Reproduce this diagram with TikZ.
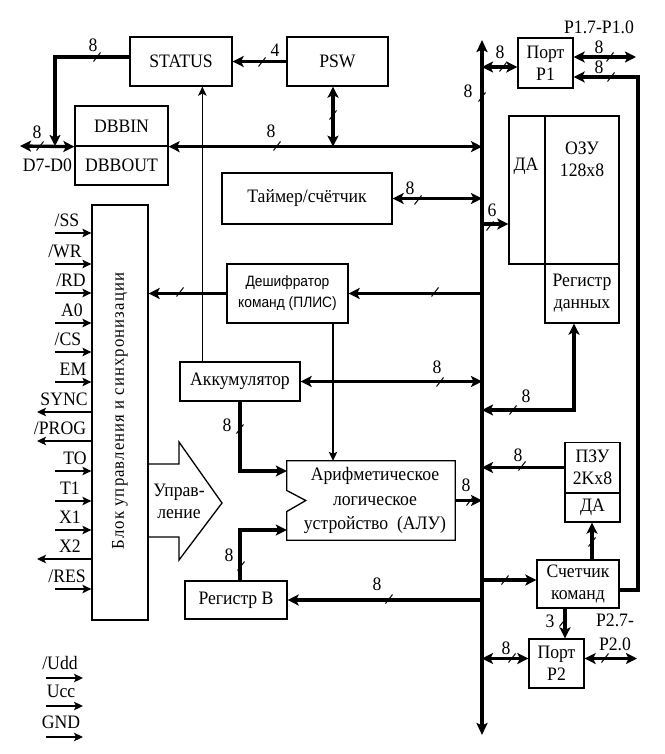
\documentclass[tikz,border=0pt]{standalone}
\usepackage{fontspec}
\setmainfont{Liberation Serif}[FakeStretch=0.93]
\newfontfamily\decfont{Liberation Sans}[FakeStretch=0.92]
\usetikzlibrary{arrows.meta,calc}
\tikzset{
  every node/.style={font=\fontsize{19}{22}\selectfont, inner sep=0pt},
  box/.style 2 args={draw, line width=1.3pt, minimum width=#1, minimum height=#2, align=center},
  boxl/.style={line width=1.3pt},
  th/.style={line width=3.3pt, >={Stealth[length=11pt,width=11pt,inset=2.5pt]}},
  bus/.style={line width=3.8pt, >={Stealth[length=12pt,width=11pt,inset=2.5pt]}},
  tn/.style={line width=1.3pt, >={Stealth[length=9pt,width=8.5pt,inset=2pt]}},
  tickl/.style={line width=1pt},
  lbl/.style={font=\fontsize{19}{22}\selectfont}
}
\newcommand\tk[2]{\draw[tickl] (#1,#2) ++(-3.5,4.5) -- ++(7,-9);}
\begin{document}
\begin{tikzpicture}[x=1pt,y=-1pt]
\useasboundingbox (0,0) rectangle (664,754);
% bus
\coordinate (bustop) at (482,40);
\coordinate (busbot) at (482,735);
\draw[bus,<->] (bustop) -- (busbot);
% boxes
\node[box={102pt}{49pt}] (status) at (181,61.5) {STATUS};
\node[box={101pt}{49pt}] (psw) at (337.5,61.5) {PSW};
\node[box={93pt}{40pt}] (dbbin) at (121.5,126) {DBBIN};
\node[box={93pt}{39pt}] (dbbout) at (121.5,165.5) {DBBOUT};
\node[box={170pt}{51pt}] (timer) at (307,198.5) {Таймер/счётчик};
\node[box={121pt}{59pt}, font=\decfont\fontsize{15}{21}\selectfont] (dec) at (287.5,293.5) {Дешифратор\\команд (ПЛИС)};
\node[box={56pt}{415pt}] (ctrl) at (120,412.5) {};
\node[rotate=90, font=\fontsize{18}{20}\selectfont\addfontfeature{LetterSpace=6}] (ctrltext) at (120,411) {Блок управления и синхронизации};
\node[box={120pt}{39pt}] (acc) at (240,381.5) {Аккумулятор};
\node[minimum width=168pt, minimum height=79pt, align=center, font=\fontsize{19}{24.5}\selectfont] (alu) at (371,500.5) {\hspace*{8pt}Арифметическое\\\hspace*{8pt}логическое\\\hspace*{8pt}устройство\ \ (АЛУ)};
\draw[boxl] (alu.north west) -- (alu.north east) -- (alu.south east) -- (alu.south west) -- ($(alu.west)+(0,11)$) -- ($(alu.west)+(19,0)$) -- ($(alu.west)+(0,-10)$) -- cycle;
\node[box={102pt}{38pt}] (regb) at (236,600) {Регистр B};
\node[box={55pt}{50pt}] (p1) at (545.5,63) {Порт\\P1};
\node[box={36pt}{148pt}] (da) at (527,190) {};
\node (datext) at (526,166) {ДА};
\node[box={74pt}{148pt}] (ozu) at (582,190) {};
\node[align=center] (ozutext) at (582,159) {ОЗУ\\128x8};
\node[box={74pt}{59pt}] (rd) at (582,293.5) {Регистр\\данных};
\node[box={55pt}{50pt}] (pzu) at (592.5,467.5) {ПЗУ\\2Kx8};
\node[box={55pt}{29pt}] (pzuda) at (592.5,507.5) {ДА};
\node[box={82pt}{48pt}] (pc) at (578,584) {Счетчик\\команд};
\node[box={55pt}{49pt}] (p2) at (556.5,663.5) {Порт\\P2};
% control arrow shape
\draw[boxl] (148,464) -- (179,464) -- (179,442) -- (222,503) -- (179,560) -- (179,537) -- (148,537);
\node[align=center] (upr) at (179,501) {Управ-\\ление};
% coordinates
\coordinate (dbbjoin) at (55,146);
\coordinate (d70) at (20,146);
\coordinate (stout) at ($(status.west)+(0,-4.5)$);
\coordinate (pswdn) at ($(psw.south)+(-4.5,0)$);
\coordinate (accup) at ($(acc.north west)+(23,0)$);
\coordinate (da6) at ($(da.west)+(0,34)$);
\coordinate (decdn) at ($(dec.south)+(45.5,0)$);
\coordinate (rdd) at ($(rd.south)+(-8,0)$);
\coordinate (rdcorner) at (574,410);
\coordinate (aluin1) at ($(alu.west)+(0,-29.5)$);
\coordinate (aluin2) at ($(alu.west)+(0,29.5)$);
\coordinate (regbup) at ($(regb.north)+(4,0)$);
\coordinate (pcin) at ($(pc.west)+(0,-4)$);
\coordinate (pcup) at ($(pc.north)+(14,0)$);
\coordinate (pcr) at ($(pc.east)+(0,6)$);
\coordinate (ret) at (638,77);
\coordinate (p1in) at ($(p1.east)+(0,14)$);
\coordinate (p1o) at ($(p1.east)+(0,-6)$);
\coordinate (p1out) at (636,57);
\coordinate (p1w) at ($(p1.west)+(0,4)$);
\coordinate (pcd) at ($(pc.south)+(-13,0)$);
\coordinate (p2w) at ($(p2.west)+(0,-5)$);
\coordinate (p2o) at ($(p2.east)+(0,-5)$);
\coordinate (p2out) at (637,658.5);
% connectors
\draw[th,->] (psw.west) -- (status.east);
\draw[th,->] (stout) -| (dbbjoin);
\draw[th,<->] (d70) -- (dbbin.south west);
\draw[th,<->] (dbbin.south east) -- (dbbin.south east -| bustop);
\draw[th,<->] (pswdn) -- (pswdn |- dbbin.south east);
\draw[tn,->] (accup) -- (accup |- status.south);
\draw[th,<->] (timer.east) -- (timer.east -| bustop);
\draw[th,->] (da6 -| bustop) -- (da6);
\draw[th,->] (dec.east -| bustop) -- (dec.east);
\draw[th,->] (dec.west) -- (dec.west -| ctrl.east);
\draw[tn,->] (decdn) -- (decdn |- alu.north);
\draw[th,<->] (acc.east) -- (acc.east -| bustop);
\draw[th,<->] (rdd) |- (rdcorner -| bustop);
\draw[th,->] (pzu.west) -- (pzu.west -| bustop);
\draw[th,->] (acc.south) |- (aluin1);
\draw[th,->] (alu.east) -- (alu.east -| bustop);
\draw[th,->] (regbup) |- (aluin2);
\draw[th,->] (regb.east -| bustop) -- (regb.east);
\draw[th,->] (pcin -| bustop) -- (pcin);
\draw[th,->] (pcup) -- (pcup |- pzuda.south);
\draw[th,->] (pcr) -| (ret) -- (p1in);
\draw[th,<->] (p1o) -- (p1out);
\draw[th,<->] (p1w -| bustop) -- (p1w);
\draw[th,->] (pcd) -- (pcd |- p2.north);
\draw[th,<->] (p2w -| bustop) -- (p2w);
\draw[th,<->] (p2o) -- (p2out);
% control signals
\foreach \y/\t/\lx [count=\i] in {233/{/SS}/67, 264/{/WR}/65, 293/{/RD}/71, 323/{A0}/72, 352/{/CS}/68, 382/{EM}/73, 471/{TO}/75, 501/{T1}/70, 530/{X1}/70, 589/{/RES}/67}{
  \draw[tn,->] (55,\y) -- (ctrl.west |- 0,\y);
  \node (sin\i) at (\lx,\y-13) {\t};
}
\foreach \y/\t/\lx [count=\i] in {412/{SYNC}/64, 441/{/PROG}/60, 559/{X2}/70}{
  \draw[tn,->] (ctrl.west |- 0,\y) -- (37,\y);
  \node (sout\i) at (\lx,\y-13) {\t};
}
\foreach \y/\t/\lx [count=\i] in {678/{/Udd}/60, 706/{Ucc}/61, 737/{GND}/61}{
  \draw[tn,->] (46,\y) -- (83,\y);
  \node (pw\i) at (\lx,\y-15) {\t};
}
% labels
\node (l1) at (93,45) {8};
\node (l2) at (275,50) {4};
\node (l3) at (37,132) {8};
\node (l4) at (47.5,165) {D7-D0};
\node (l5) at (271,131) {8};
\node (l6) at (500,52) {8};
\node (l7) at (599,27) {P1.7-P1.0};
\node (l8) at (599,47) {8};
\node (l9) at (599,67) {8};
\node (l10) at (468,91) {8};
\node (l11) at (410,188) {8};
\node (l12) at (492,210) {6};
\node (l13) at (437,367) {8};
\node (l14) at (526,396) {8};
\node (l15) at (518,455) {8};
\node (l16) at (466,485) {8};
\node (l17) at (227,425) {8};
\node (l18) at (229,555) {8};
\node (l19) at (377,584) {8};
\node (l20) at (550,621) {3};
\node (l21) at (506,648) {8};
\node (l22) at (615,620) {P2.7-};
\node (l23) at (615,644) {P2.0};
% ticks
\tk{97}{57} \tk{262}{62} \tk{40}{146} \tk{277}{146} \tk{333}{115}
\tk{503}{67} \tk{610}{57} \tk{611}{77} \tk{482}{97} \tk{418}{200}
\tk{490}{226} \tk{435}{292} \tk{180}{292} \tk{440}{382} \tk{513}{410}
\tk{522}{466} \tk{470}{501} \tk{240}{429} \tk{241}{566} \tk{389}{599}
\tk{505}{580} \tk{592}{542} \tk{563}{622} \tk{512}{658} \tk{605}{658}
\end{tikzpicture}
\end{document}
